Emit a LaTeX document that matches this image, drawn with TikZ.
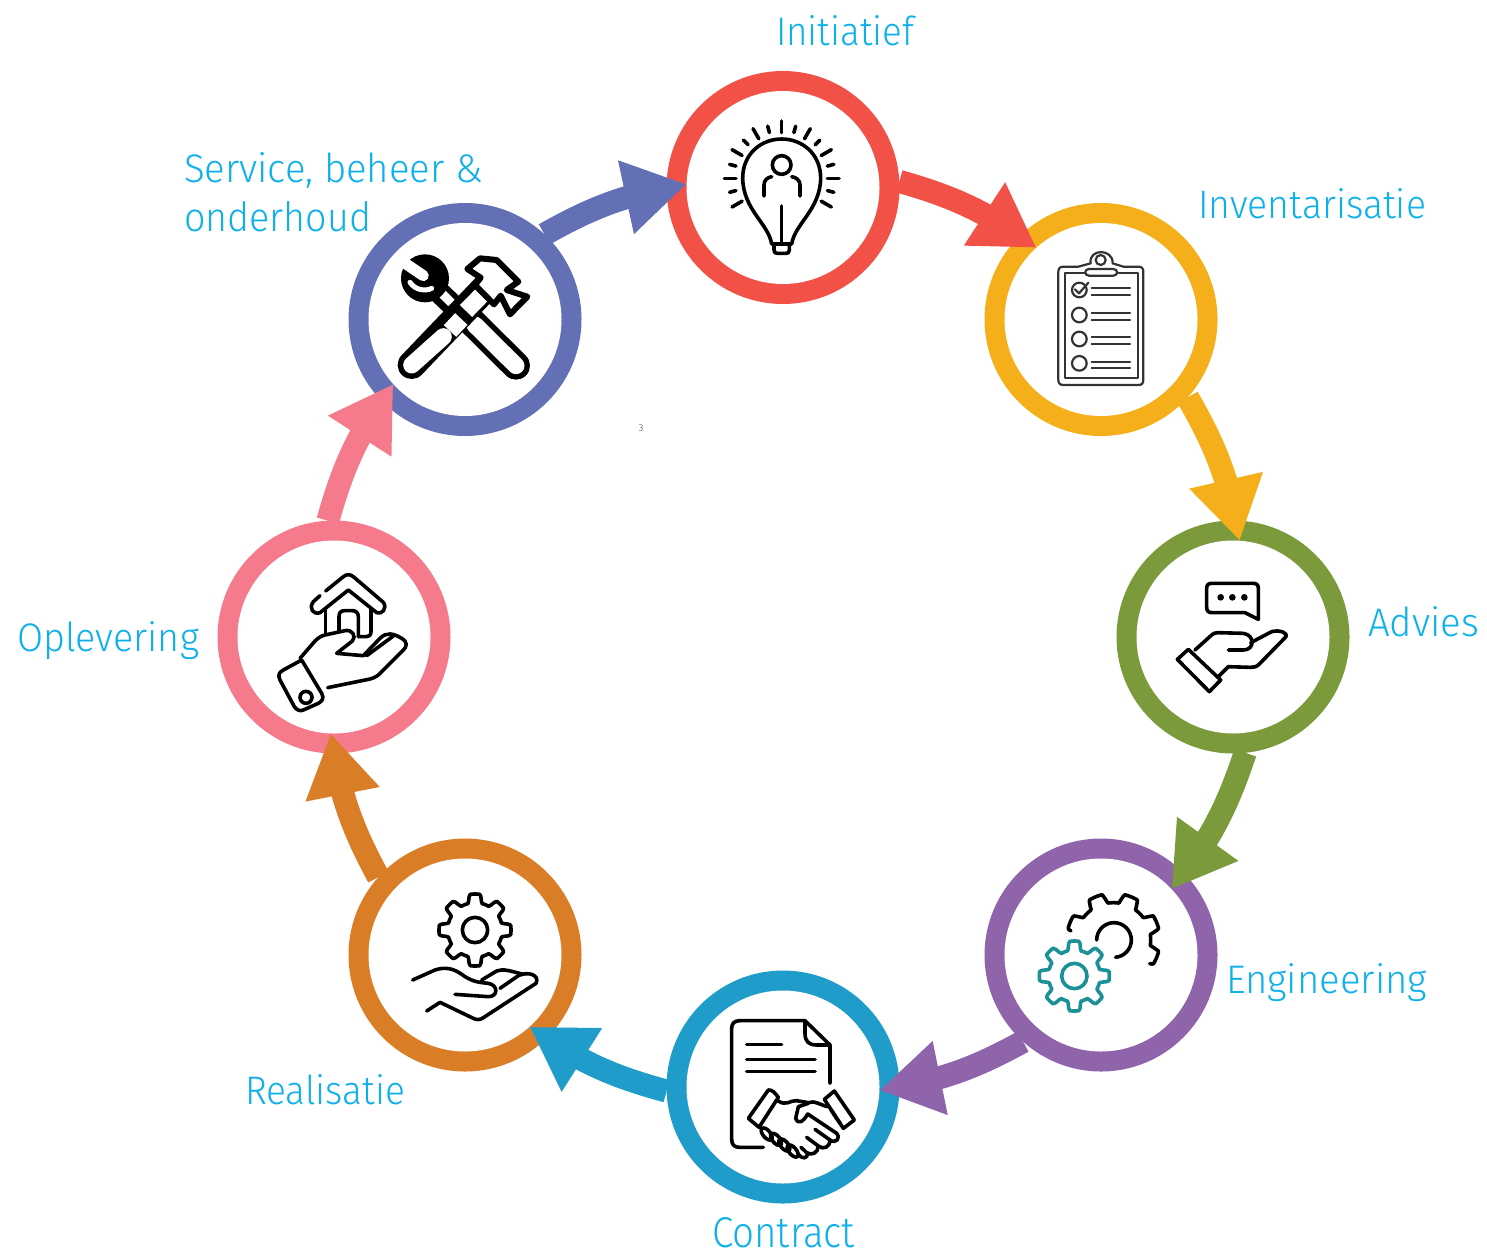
\documentclass[tikz,border=0pt]{standalone}
\usepackage{graphicx}
\usepackage{fontspec}
\setmainfont{Fira Sans Light}
\usetikzlibrary{arrows.meta,bending}
\definecolor{cred}{HTML}{F15146}
\definecolor{cyel}{HTML}{F5AF1B}
\definecolor{cgrn}{HTML}{7B9A3B}
\definecolor{cpur}{HTML}{8F64AA}
\definecolor{cblu}{HTML}{1F9CC9}
\definecolor{cora}{HTML}{DA7D27}
\definecolor{cpnk}{HTML}{F57A8C}
\definecolor{cind}{HTML}{6370B5}
\definecolor{ctxt}{HTML}{0DB0EA}
\definecolor{cteal}{HTML}{1B9096}
\tikzset{
 ring/.style={circle,minimum size=233pt,inner sep=0pt,outer sep=0pt},
 hole/.style={circle,fill=white,minimum size=193pt,inner sep=0pt,outer sep=0pt},
 flow/.style={line width=23pt,-{Triangle[length=62pt,width=71pt,flex]},bend left=10},
 lab/.style={text=ctxt,anchor=base west,inner sep=0pt,outer sep=0pt},
 zoomed/.style={scale=0.33333},
 ico/.style={draw=black,line width=3.6pt,line cap=round,line join=round},
 thin ico/.style={draw=black!80,line width=2.2pt,line cap=round,line join=round},
 bold ico/.style={draw=black,line width=6pt,line cap=round,line join=round},
 declare function={gearr(\t,\ro,\ri,\n,\ph)=\ri+(\ro-\ri)*min(1,max(0,0.5+1.4*cos(\n*(\t-\ph))));}
}
\newcommand{\gearplot}[9]{\draw[#1] plot[samples=145,domain=#8:#9,variable=\t] ({#2+gearr(\t,#4,#5,#6,#7)*cos(\t)},{#3-gearr(\t,#4,#5,#6,#7)*sin(\t)});}
\newcommand{\lbl}[5]{\node[lab] (#1) at (#2,#3) {\resizebox{#4pt}{30pt}{#5}};}
\begin{document}
\begin{tikzpicture}[x=1pt,y=-1pt]
\path[use as bounding box] (0,0) rectangle (1487,1250);
% rings
\node[ring,fill=cred] (n1) at (783,187.5) {};
\node[ring,fill=cyel] (n2) at (1101,319.5) {};
\node[ring,fill=cgrn] (n3) at (1233,637) {};
\node[ring,fill=cpur] (n4) at (1101,955) {};
\node[ring,fill=cblu] (n5) at (783,1087) {};
\node[ring,fill=cora] (n6) at (465,955) {};
\node[ring,fill=cpnk] (n7) at (334,637) {};
\node[ring,fill=cind] (n8) at (465,319.5) {};
\foreach \i in {1,...,8} \node[hole] (c\i) at (n\i) {};
% arrows
\draw[flow,cred] (n1.3) to (c2.132.5);
\draw[flow,cyel] (n2.-42) to (c3.86);
\draw[flow,cgrn] (n3.-84) to (c4.43);
\draw[flow,cpur] (n4.-132) to (c5.-2);
\draw[flow,cblu] (n5.182) to (c6.-48);
\draw[flow,cora] (n6.138) to (c7.-92);
\draw[flow,cpnk] (n7.93) to (c8.222.5);
\draw[flow,cind] (n8.47) to (c1.178);
% bulb
\begin{scope}[shift={(700,100)},zoomed]
 \foreach \a in {90,60,30,0,-30,120,150,180,210} \draw[ico] (245,235)++({-\a}:137) -- ++({-\a}:35);
 \foreach \a in {75,45,15,-15,105,135,165,195} \draw[ico] (245,235)++({-\a}:142) -- ++({-\a}:20);
 \draw[ico] (215,432) .. controls (205,370) and (130,330) .. (128,235) .. controls (128,160) and (185,117) .. (245,117) .. controls (305,117) and (362,160) .. (362,235) .. controls (360,330) and (285,370) .. (275,432) -- cycle;
 \draw[ico] (222,432) -- (222,450) .. controls (222,458) and (226,460) .. (232,460) -- (258,460) .. controls (264,460) and (268,458) .. (268,450) -- (268,432);
 \draw[ico] (245,318) -- (245,425);
 \draw[ico] (245,195) circle (28);
 \draw[ico] (192,288) -- (192,255) .. controls (192,240) and (203,232) .. (215,230);
 \draw[ico] (300,288) -- (300,255) .. controls (300,240) and (288,232) .. (275,230);
\end{scope}
% clipboard
\begin{scope}[shift={(1030,235)},zoomed]
 \draw[thin ico] (145,95) -- (100,95) .. controls (90,95) and (85,100) .. (85,110) -- (85,435) .. controls (85,445) and (90,450) .. (100,450) -- (325,450) .. controls (335,450) and (340,445) .. (340,435) -- (340,110) .. controls (340,100) and (335,95) .. (325,95) -- (280,95) -- (248,85) .. controls (250,40) and (175,40) .. (182,85) -- cycle;
 \draw[thin ico] (105,114) rectangle (325,430);
 \draw[thin ico,fill=white] (177,102) -- (250,102) .. controls (265,102) and (265,122) .. (250,122) -- (177,122) .. controls (162,122) and (162,102) .. (177,102) -- cycle;
 \draw[thin ico] (212,75) circle (15);
 \foreach \y in {165,240,312,385} {
  \draw[thin ico] (148,\y) circle (22);
  \draw[thin ico] (185,\y-5) -- (300,\y-5);
  \draw[thin ico] (185,\y+15) -- (300,\y+15);
 }
 \draw[thin ico] (135,163) -- (147,175) -- (175,143);
\end{scope}
% advies hand
\begin{scope}[shift={(1160,570)},zoomed]
 \draw[ico] (255,128) -- (155,128) .. controls (145,128) and (140,122) .. (140,112) -- (140,55) .. controls (140,45) and (145,40) .. (155,40) -- (280,40) .. controls (290,40) and (295,45) .. (295,55) -- (295,148) -- cycle;
 \foreach \x in {182,217,253} \fill[black] (\x,82) circle (10);
 \draw[ico] (85,238) -- (182,330) -- (148,365) -- (52,268) -- cycle;
 \draw[ico] (105,240) -- (155,195) .. controls (160,190) and (165,188) .. (175,188) -- (250,190) .. controls (285,195) and (285,240) .. (250,240) -- (205,240);
 \draw[ico] (272,218) -- (335,185) .. controls (360,178) and (385,190) .. (378,200) -- (300,280) .. controls (290,292) and (280,292) .. (270,292) -- (205,290) -- (175,320);
\end{scope}
% engineering gears
\begin{scope}[shift={(1025,880)},zoomed]
 \gearplot{ico,draw=cteal}{148}{288}{105}{78}{8}{0}{0}{360}
 \draw[ico,draw=cteal] (148,288) circle (38);
 \gearplot{ico}{265}{180}{140}{112}{8}{22.5}{-33}{168}
 \draw[ico] (215,180) arc[start angle=180,end angle=-85,radius=52,y radius=-52];
\end{scope}
% contract
\begin{scope}[shift={(715,1010)},zoomed]
 \draw[ico] (145,412) -- (75,412) .. controls (58,412) and (50,405) .. (50,388) -- (50,55) .. controls (50,40) and (58,32) .. (75,32) -- (270,32) -- (345,105) -- (345,220);
 \draw[ico] (270,32) -- (270,70) .. controls (270,95) and (282,105) .. (305,105) -- (345,105);
 \draw[ico] (95,103) -- (200,103);
 \draw[ico] (95,148) -- (300,148);
 \draw[ico] (95,185) -- (300,185);
 \draw[ico] (160,240) .. controls (170,238) and (180,248) .. (190,262) -- (132,352) -- (100,325) -- cycle;
 \draw[ico] (358,243) -- (418,330) -- (385,355) -- (328,268) -- cycle;
 \draw[ico] (188,272) .. controls (215,290) and (225,270) .. (245,272) -- (280,278) .. controls (300,270) and (315,285) .. (338,290);
 \draw[ico] (280,280) -- (250,290) -- (242,325) .. controls (250,345) and (265,335) .. (278,312) -- (365,370) .. controls (378,385) and (362,402) .. (345,390) -- (300,358);
 \draw[ico] (345,390) .. controls (345,412) and (325,420) .. (310,408) -- (275,382);
 \draw[ico] (310,408) .. controls (310,428) and (290,438) .. (275,428) -- (258,412);
 \draw[ico] (348,300) -- (375,340);
 \foreach \x/\y in {155/372,183/388,208/405,233/423} \draw[ico,rotate around={-50:(\x,\y)}] (\x,\y) ellipse (22 and 11);
 \draw[ico] (250,432) .. controls (262,450) and (278,445) .. (278,430);
\end{scope}
% realisatie
\begin{scope}[shift={(400,885)},zoomed]
 \gearplot{ico}{225}{135}{108}{82}{8}{0}{0}{360}
 \draw[ico] (225,135) circle (38);
 \draw[ico] (38,285) -- (105,255) .. controls (135,245) and (160,250) .. (185,268) .. controls (215,290) and (235,292) .. (265,295) .. controls (295,300) and (295,335) .. (265,335) -- (165,328);
 \draw[ico] (245,285) -- (290,258) .. controls (310,250) and (330,258) .. (370,268);
 \draw[ico] (300,310) -- (355,272) .. controls (385,258) and (420,270) .. (408,295) -- (250,398) .. controls (240,405) and (230,405) .. (220,400) -- (120,352) -- (80,378);
\end{scope}
% oplevering
\begin{scope}[shift={(265,565)},zoomed]
 \draw[ico] (182,78) -- (235,35) .. controls (245,27) and (255,27) .. (265,35) -- (355,112) .. controls (368,130) and (350,150) .. (335,143) -- (250,75) -- (165,143) .. controls (145,150) and (130,130) .. (145,110) -- (165,92);
 \draw[ico] (182,135) -- (182,205);
 \draw[ico] (318,130) -- (318,200) .. controls (318,210) and (312,215) .. (305,215) -- (280,215);
 \draw[ico] (222,200) -- (222,155) .. controls (222,143) and (228,137) .. (238,137) -- (262,137) .. controls (272,137) and (280,143) .. (280,155) -- (280,215);
 \draw[ico] (105,280) -- (150,228) .. controls (160,218) and (170,212) .. (180,210) -- (240,197) .. controls (262,192) and (275,215) .. (262,228) -- (215,265) -- (295,272) -- (345,220) .. controls (365,200) and (385,205) .. (410,220) .. controls (430,232) and (425,245) .. (415,255) -- (350,320) .. controls (340,332) and (330,338) .. (315,342) -- (188,368);
 \draw[ico] (305,272) -- (385,213);
 \draw[ico] (110,285) -- (170,385) .. controls (178,400) and (172,408) .. (160,415) -- (115,435) .. controls (105,440) and (95,435) .. (88,425) -- (45,345) .. controls (38,330) and (42,322) .. (55,315) -- cycle;
 \draw[ico] (123,397) circle (18);
\end{scope}
% tools
\begin{scope}[shift={(390,245)},zoomed]
 \draw[black,line width=22pt] (135,130) -- (245,235);
 \draw[white,line width=9pt] (150,140) -- (230,218);
 \draw[black,line width=28pt,line cap=round] (240,225) -- (378,362);
 \draw[white,line width=17pt,line cap=round] (255,240) -- (378,362);
 \fill[black] (105,100) circle (72);
 \draw[white,line width=11pt,line cap=round] (38,50) -- (100,92);
 \draw[white,line width=5pt,line cap=round] (60,112) .. controls (75,135) and (105,140) .. (125,130);
 \draw[black,line width=28pt,line cap=round] (285,130) -- (65,360);
 \draw[white,line width=17pt] (275,150) -- (228,198);
 \draw[white,line width=17pt] (214,222) -- (180,258);
 \draw[white,line width=17pt,line cap=round] (160,275) -- (65,360);
 \draw[bold ico,fill=white] (232,72) -- (270,40) -- (320,45) -- (385,110) -- (350,135) -- (412,155) -- (360,208) -- (332,152) -- (312,178) -- (255,120) -- (272,98) -- cycle;
\end{scope}
% labels
\lbl{t1}{776}{45}{138}{Initiatief}
\lbl{t2}{1198}{218}{228}{Inventarisatie}
\lbl{t3}{1368}{636}{111}{Advies}
\lbl{t4}{1226}{993}{201}{Engineering}
\lbl{t5}{712}{1247}{143}{Contract}
\lbl{t6}{245}{1104}{160}{Realisatie}
\lbl{t7}{17}{651}{182}{Oplevering}
\lbl{t8}{184}{182}{299}{Service, beheer \&}
\lbl{t9}{184}{231}{187}{onderhoud}
\node[text=black!70,font=\fontsize{10}{10}\selectfont,inner sep=0pt] (pg) at (641,428) {3};
\end{tikzpicture}
\end{document}
